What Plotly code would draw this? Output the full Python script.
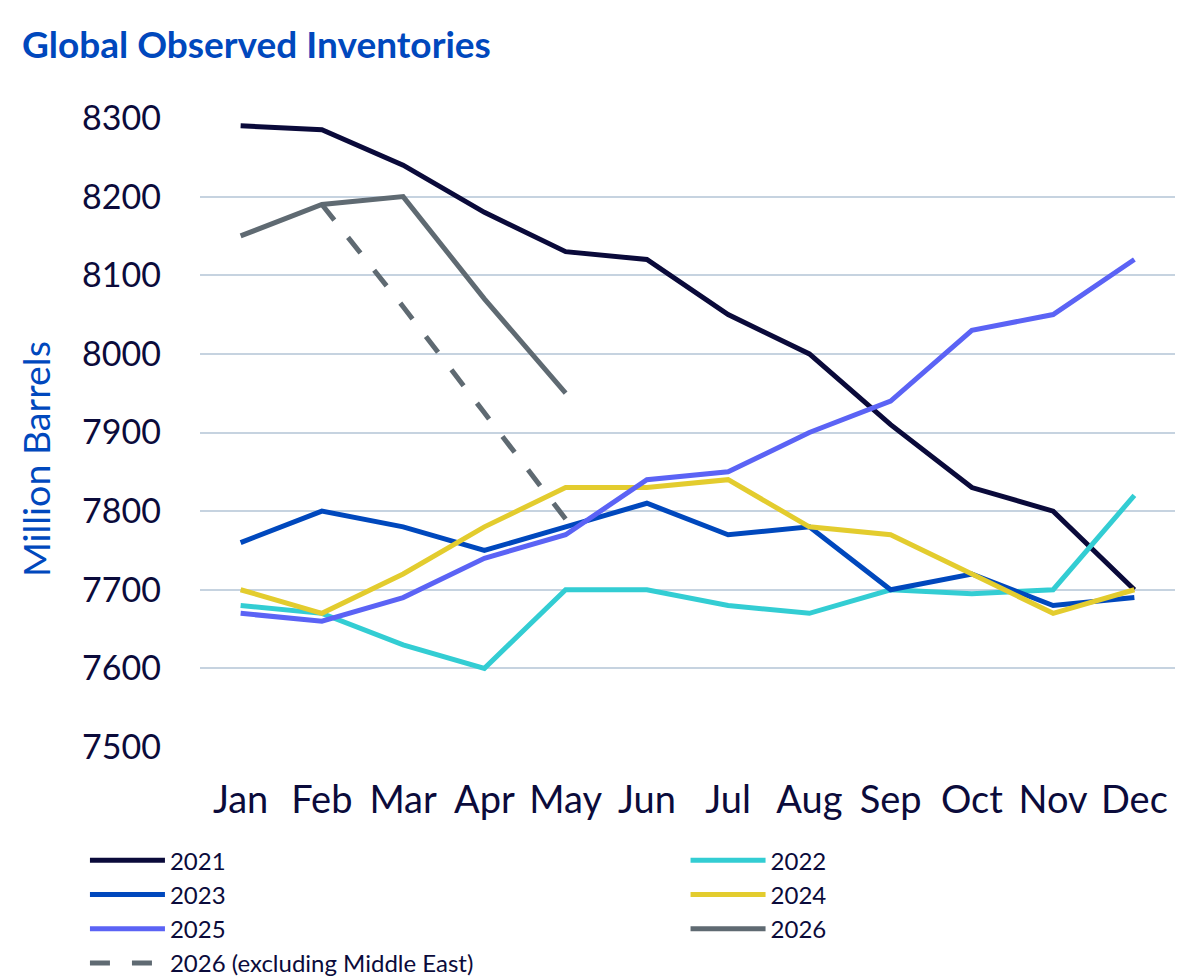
import plotly.graph_objects as go

months = ['Jan', 'Feb', 'Mar', 'Apr', 'May', 'Jun', 'Jul', 'Aug', 'Sep', 'Oct', 'Nov', 'Dec']

y2021 = [8290, 8285, 8240, 8180, 8130, 8120, 8050, 8000, 7910, 7830, 7800, 7700]
y2022 = [7680, 7670, 7630, 7600, 7700, 7700, 7680, 7670, 7700, 7695, 7700, 7820]
y2023 = [7760, 7800, 7780, 7750, 7780, 7810, 7770, 7780, 7700, 7720, 7680, 7690]
y2024 = [7700, 7670, 7720, 7780, 7830, 7830, 7840, 7780, 7770, 7720, 7670, 7700]
y2025 = [7670, 7660, 7690, 7740, 7770, 7840, 7850, 7900, 7940, 8030, 8050, 8120]
y2026 = [8150, 8190, 8200, 8070, 7950]
months_exme = ['Feb', 'Mar', 'Apr', 'May']
y2026_exme = [8190, 8060, 7925, 7790]

navy = '#0b0b3b'
blue = '#0048bd'
font = 'Lato'

data = []
# left legend column: 2021, 2023, 2025, 2026 ex ME ; right column: 2022, 2024, 2026
data += [go.Scatter(x=months, y=y2021, name='2021', mode='lines', legend='legend',
                    line=dict(color='#0a0a3a', width=5))]
data += [go.Scatter(x=months, y=y2022, name='2022', mode='lines', legend='legend2',
                    line=dict(color='#33cdd3', width=5))]
data += [go.Scatter(x=months, y=y2023, name='2023', mode='lines', legend='legend',
                    line=dict(color='#0048bd', width=5))]
data += [go.Scatter(x=months, y=y2024, name='2024', mode='lines', legend='legend2',
                    line=dict(color='#e3cc2e', width=5))]
data += [go.Scatter(x=months, y=y2025, name='2025', mode='lines', legend='legend',
                    line=dict(color='#5b63f5', width=5))]
data += [go.Scatter(x=months[:5], y=y2026, name='2026', mode='lines', legend='legend2',
                    line=dict(color='#5f6a72', width=5))]
data += [go.Scatter(x=months_exme, y=y2026_exme, name='2026 (excluding Middle East)', mode='lines',
                    legend='legend', line=dict(color='#5f6a72', width=5, dash='20px,22px'))]

fig = go.Figure(data)

legend_style = dict(orientation='v', yanchor='top', xanchor='left', font=dict(size=24, color=navy),
                    itemwidth=75, tracegroupgap=0, bgcolor='rgba(0,0,0,0)')

fig.update_layout(
    width=1200, height=979,
    plot_bgcolor='white', paper_bgcolor='white',
    margin=dict(l=192, r=33, t=110, b=240, autoexpand=False),
    font=dict(family=font, color=navy),
    title=dict(text='<b>Global Observed Inventories</b>', x=14 / 1200, xanchor='left',
               y=1 - 37 / 979, yanchor='middle', font=dict(size=37, color=blue, family=font)),
    legend=dict(x=-0.118, y=-0.145, **legend_style),
    legend2=dict(x=0.498, y=-0.145, **legend_style),
    showlegend=True,
    annotations=[dict(text='Million Barrels', textangle=-90, xref='paper', yref='paper',
                      x=-0.168, y=0.458, xanchor='center', yanchor='middle', showarrow=False,
                      font=dict(size=37.5, color=blue, family=font))],
)

fig.update_xaxes(type='category', categoryorder='array', categoryarray=months, range=[-0.5, 11.5],
                 showgrid=False, showline=False, ticks='', tickfont=dict(size=38, color=navy),
                 ticklabelstandoff=27)
fig.update_yaxes(range=[7500, 8300], dtick=100, showgrid=True, gridcolor='#c6d3e0', gridwidth=2,
                 zeroline=False, showline=False, ticks='', tickfont=dict(size=34, color=navy),
                 ticklabelstandoff=38)

fig.write_html("out.html")
